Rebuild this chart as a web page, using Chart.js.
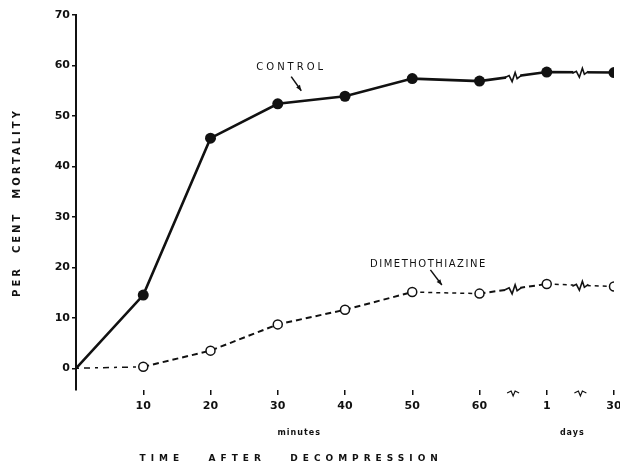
<!DOCTYPE html>
<html>
<head>
<meta charset="utf-8">
<script src="https://cdn.jsdelivr.net/npm/chart.js@4.4.1/dist/chart.umd.min.js"></script>
<style>
  html, body { margin: 0; padding: 0; background: #fff; }
  #wrap { width: 620px; height: 467px; }
</style>
</head>
<body>
<div id="wrap"><canvas id="c" width="620" height="467"></canvas></div>
<script>
// ---- data ----
const xLabels = ['', '10', '20', '30', '40', '50', '60', '1', '30'];
const controlMortality = [0, 14.5, 45.6, 52.4, 53.9, 57.4, 56.9, 58.7, 58.6];
const dimethMortality  = [0, 0.3, 3.5, 8.7, 11.6, 15.1, 14.8, 16.7, 16.2];
const yTickValues = [0, 10, 20, 30, 40, 50, 60, 70];
const breakPositions = [6.5, 7.5];

const INK = '#111';
const toPoints = arr => arr.map((v, i) => ({ x: i, y: v }));

const overlay = {
  id: 'overlay',
  afterDatasetsDraw(chart) {
    const ctx = chart.ctx, xs = chart.scales.x, ca = chart.chartArea;
    ctx.save();
    ctx.strokeStyle = INK;
    chart.data.datasets.forEach((ds, di) => {
      const meta = chart.getDatasetMeta(di);
      breakPositions.forEach(bp => {
        const i = Math.floor(bp);
        const a = meta.data[i], b = meta.data[i + 1];
        const t = bp - i;
        const px = a.x + (b.x - a.x) * t, py = a.y + (b.y - a.y) * t;
        ctx.fillStyle = '#fff';
        ctx.fillRect(px - 7, py - 6, 14, 12);
        ctx.beginPath();
        ctx.lineWidth = 1.6; ctx.setLineDash([]);
        ctx.moveTo(px - 8, py + 1);
        ctx.lineTo(px - 4, py - 1);
        ctx.lineTo(px - 1, py + 5);
        ctx.lineTo(px + 2, py - 4);
        ctx.lineTo(px + 4, py + 2);
        ctx.lineTo(px + 8, py - 1);
        ctx.stroke();
      });
    });
    breakPositions.forEach(bp => {
      const px = xs.getPixelForValue(bp), py = ca.bottom + 3;
      ctx.beginPath(); ctx.lineWidth = 1.2;
      ctx.moveTo(px - 6, py); ctx.lineTo(px - 2, py - 2); ctx.lineTo(px, py + 3);
      ctx.lineTo(px + 2, py - 2); ctx.lineTo(px + 6, py);
      ctx.stroke();
    });
    ctx.restore();
  },
  afterDraw(chart) {
    const ctx = chart.ctx, xs = chart.scales.x, ys = chart.scales.y, ca = chart.chartArea;
    ctx.save();
    ctx.fillStyle = INK; ctx.strokeStyle = INK;
    ctx.textAlign = 'center'; ctx.textBaseline = 'middle';
    ctx.save();
    ctx.translate(17, (ca.top + ca.bottom) / 2);
    ctx.rotate(-Math.PI / 2);
    ctx.font = 'bold 10px "DejaVu Sans"';
    ctx.letterSpacing = '3px';
    ctx.fillText('PER  CENT  MORTALITY', 0, 0);
    ctx.restore();
    ctx.font = 'bold 9px "DejaVu Sans"';
    ctx.letterSpacing = '5px';
    ctx.fillText('TIME   AFTER   DECOMPRESSION', xs.getPixelForValue(3.2), ca.bottom + 69);
    ctx.letterSpacing = '1px';
    ctx.font = 'bold 8px "DejaVu Sans"';
    ctx.fillText('minutes', xs.getPixelForValue(3.32), ca.bottom + 43);
    ctx.fillText('days', xs.getPixelForValue(7.38), ca.bottom + 43);
    ctx.font = '10px "DejaVu Sans"';
    ctx.letterSpacing = '3px';
    ctx.fillText('CONTROL', xs.getPixelForValue(3.2), ys.getPixelForValue(59.6));
    ctx.letterSpacing = '1.5px';
    ctx.fillText('DIMETHOTHIAZINE', xs.getPixelForValue(5.24), ys.getPixelForValue(20.6));
    ctx.letterSpacing = '0px';
    const arrow = (x0, y0, x1, y1) => {
      const ax = xs.getPixelForValue(x0), ay = ys.getPixelForValue(y0);
      const bx = xs.getPixelForValue(x1), by = ys.getPixelForValue(y1);
      ctx.beginPath(); ctx.lineWidth = 1.5;
      ctx.moveTo(ax, ay); ctx.lineTo(bx, by); ctx.stroke();
      const ang = Math.atan2(by - ay, bx - ax);
      ctx.beginPath();
      ctx.moveTo(bx, by);
      ctx.lineTo(bx - 6 * Math.cos(ang - 0.4), by - 6 * Math.sin(ang - 0.4));
      ctx.lineTo(bx - 6 * Math.cos(ang + 0.4), by - 6 * Math.sin(ang + 0.4));
      ctx.closePath(); ctx.fill();
    };
    arrow(3.2, 57.8, 3.35, 55.0);
    arrow(5.27, 19.5, 5.44, 16.5);
    ctx.restore();
  }
};

new Chart(document.getElementById('c'), {
  type: 'line',
  data: {
    datasets: [
      {
        label: 'CONTROL',
        data: toPoints(controlMortality),
        borderColor: INK, borderWidth: 2.6,
        pointRadius: ctx => ctx.dataIndex === 0 ? 0 : 5.5,
        pointBackgroundColor: INK, pointBorderColor: INK, pointBorderWidth: 0,
        tension: 0
      },
      {
        label: 'DIMETHOTHIAZINE',
        data: toPoints(dimethMortality),
        borderColor: INK, borderWidth: 2,
        borderDash: [6, 4],
        segment: {
          borderDash: c => c.p0DataIndex === 0 ? [3, 5, 6, 5] : (c.p0DataIndex === 5 || c.p0DataIndex === 7 ? [4, 4] : [6, 4]),
          borderWidth: c => c.p0DataIndex === 0 || c.p0DataIndex === 5 || c.p0DataIndex === 7 ? 1.5 : 2
        },
        pointRadius: ctx => ctx.dataIndex === 0 ? 0 : 4.5,
        pointBackgroundColor: '#fff', pointBorderColor: INK, pointBorderWidth: 1.5,
        tension: 0
      }
    ]
  },
  options: {
    responsive: false,
    animation: false,
    devicePixelRatio: 1,
    layout: { padding: { top: 15, right: 0, left: 0, bottom: 0 } },
    plugins: { legend: { display: false }, tooltip: { enabled: false } },
    scales: {
      x: {
        type: 'linear', min: 0, max: 8,
        border: { display: false },
        grid: {
          drawOnChartArea: false, drawTicks: true, tickLength: 5,
          lineWidth: 1.5,
          color: c => (c.tick && c.tick.value === 0) ? 'rgba(0,0,0,0)' : INK
        },
        ticks: {
          stepSize: 1, autoSkip: false, maxRotation: 0, padding: 5,
          color: INK, font: { family: 'DejaVu Sans', weight: 'bold', size: 11 },
          callback: v => xLabels[v] ?? ''
        },
        afterFit: s => { s.height = 77; s.paddingLeft = 0; s.paddingRight = 0; }
      },
      y: {
        type: 'linear', min: -4.3, max: 70,
        border: { display: true, color: INK, width: 2 },
        grid: { drawOnChartArea: false, drawTicks: true, tickLength: 4, color: INK, lineWidth: 1.5 },
        ticks: {
          padding: 2, color: INK,
          font: { family: 'DejaVu Sans', weight: 'bold', size: 11 }
        },
        afterBuildTicks: s => { s.ticks = yTickValues.map(v => ({ value: v })); },
        afterFit: s => { s.width = 76; }
      }
    }
  },
  plugins: [overlay]
});
</script>
</body>
</html>
